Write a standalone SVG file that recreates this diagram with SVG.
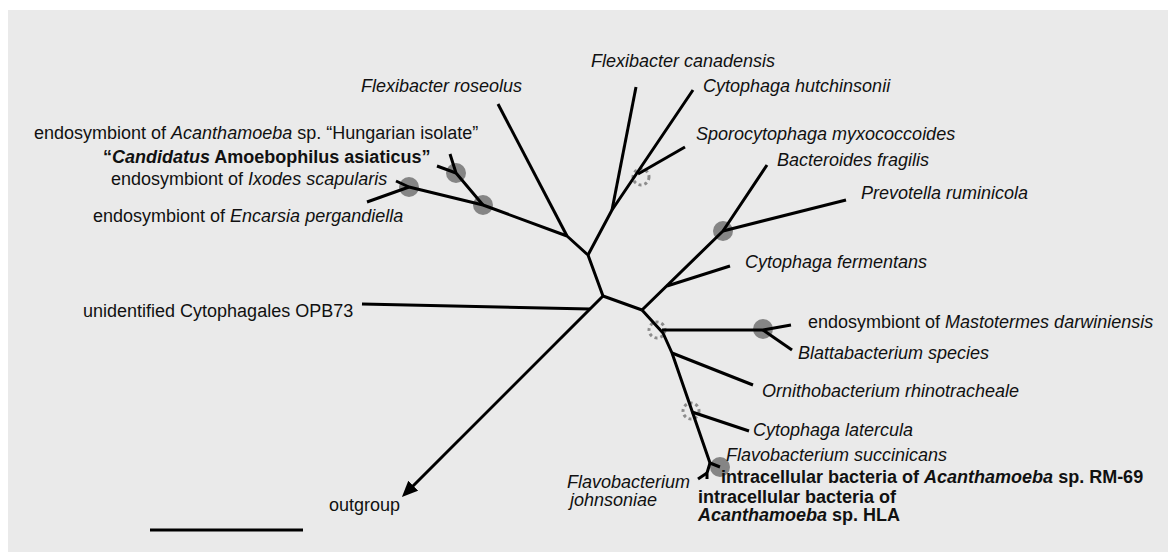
<svg xmlns="http://www.w3.org/2000/svg" width="1168" height="552" viewBox="0 0 1168 552">
<style>
text{font-family:"Liberation Sans",Arial,sans-serif;font-size:18px;fill:#111}
.i{font-style:italic}
.b{font-weight:bold}
.br{stroke:#000;stroke-width:3;fill:none;stroke-linejoin:round}
.bs{fill:#858585}
.dot{fill:none;stroke:#8c8c8c;stroke-width:3;stroke-dasharray:3 3}
</style>
<defs>
<marker id="arr" markerUnits="userSpaceOnUse" markerWidth="18" markerHeight="16" refX="6" refY="7" orient="auto">
<path d="M0,0 L16,7 L0,14 z" fill="#000"/>
</marker>
</defs>
<rect x="8" y="10" width="1160" height="542" fill="#eaeaea"/>
<g id="support">
<circle class="bs" cx="456" cy="173" r="10"/>
<circle class="bs" cx="483" cy="205" r="10"/>
<circle class="bs" cx="409" cy="187" r="10"/>
<circle class="bs" cx="723" cy="231" r="10"/>
<circle class="bs" cx="763" cy="329" r="10"/>
<circle class="bs" cx="720" cy="467" r="10"/>
<circle class="dot" cx="641" cy="177" r="8"/>
<circle class="dot" cx="657" cy="330" r="8"/>
<circle class="dot" cx="691" cy="411" r="8"/>
</g>
<g id="connectors">
<polyline class="br" points="396,181 409,187 483,205 567,236 588,255 603,296 642,310"/>
<line class="br" x1="567" y1="236" x2="498" y2="104"/>
<polyline class="br" points="450,154 456,173 483,205"/>
<line class="br" x1="437" y1="166" x2="456" y2="173"/>
<line class="br" x1="367" y1="202" x2="409" y2="187"/>
<polyline class="br" points="588,255 612,210 693,90"/>
<line class="br" x1="612" y1="210" x2="636" y2="87"/>
<line class="br" x1="638" y1="174" x2="685" y2="147"/>
<polyline class="br" points="642,310 723,231 767,165"/>
<line class="br" x1="723" y1="231" x2="846" y2="200"/>
<line class="br" x1="667" y1="286" x2="730" y2="266"/>
<polyline class="br" points="642,310 663,333 672,353 710,463 720,467"/>
<polyline class="br" points="662,330 763,330 791,325"/>
<line class="br" x1="763" y1="330" x2="792" y2="350"/>
<line class="br" x1="672" y1="353" x2="753" y2="385"/>
<line class="br" x1="692" y1="412" x2="749" y2="431"/>
<polyline class="br" points="710,463 707,473 707,479"/>
<line class="br" x1="707" y1="473" x2="698" y2="479"/>
<line class="br" x1="362" y1="304" x2="590" y2="309"/>
<line class="br" x1="603" y1="296" x2="409" y2="490" marker-end="url(#arr)"/>
<line class="br" x1="150" y1="530" x2="303" y2="530"/>
</g>
<g id="n-hungarian"><text x="34" y="139">endosymbiont of <tspan class="i">Acanthamoeba</tspan> sp. “Hungarian isolate”</text></g>
<g id="n-candidatus"><text x="103" y="163" class="b">“<tspan class="i">Candidatus</tspan> Amoebophilus asiaticus”</text></g>
<g id="n-ixodes"><text x="111" y="185">endosymbiont of <tspan class="i">Ixodes scapularis</tspan></text></g>
<g id="n-encarsia"><text x="93" y="222">endosymbiont of <tspan class="i">Encarsia pergandiella</tspan></text></g>
<g id="n-roseolus"><text x="361" y="92" class="i">Flexibacter roseolus</text></g>
<g id="n-canadensis"><text x="591" y="67" class="i">Flexibacter canadensis</text></g>
<g id="n-hutchinsonii"><text x="703" y="92" class="i">Cytophaga hutchinsonii</text></g>
<g id="n-sporocytophaga"><text x="696" y="140" class="i">Sporocytophaga myxococcoides</text></g>
<g id="n-bacteroides"><text x="777" y="166" class="i">Bacteroides fragilis</text></g>
<g id="n-prevotella"><text x="861" y="199" class="i">Prevotella ruminicola</text></g>
<g id="n-fermentans"><text x="745" y="268" class="i">Cytophaga fermentans</text></g>
<g id="n-mastotermes"><text x="808" y="328">endosymbiont of <tspan class="i">Mastotermes darwiniensis</tspan></text></g>
<g id="n-blattabacterium"><text x="798" y="359" class="i">Blattabacterium species</text></g>
<g id="n-ornithobacterium"><text x="762" y="397" class="i">Ornithobacterium rhinotracheale</text></g>
<g id="n-latercula"><text x="753" y="436" class="i">Cytophaga latercula</text></g>
<g id="n-succinicans"><text x="726" y="461" class="i">Flavobacterium succinicans</text></g>
<g id="n-rm69"><text x="721" y="483" class="b">intracellular bacteria of <tspan class="i">Acanthamoeba</tspan> sp. RM-69</text></g>
<g id="n-hla"><text x="698" y="503" class="b">intracellular bacteria of</text><text x="698" y="521" class="b"><tspan class="i">Acanthamoeba</tspan> sp. HLA</text></g>
<g id="n-johnsoniae"><text x="567" y="488" class="i">Flavobacterium</text><text x="570" y="506" class="i">johnsoniae</text></g>
<g id="n-opb73"><text x="83" y="317">unidentified Cytophagales OPB73</text></g>
<g id="n-outgroup"><text x="329" y="511">outgroup</text></g>
</svg>
